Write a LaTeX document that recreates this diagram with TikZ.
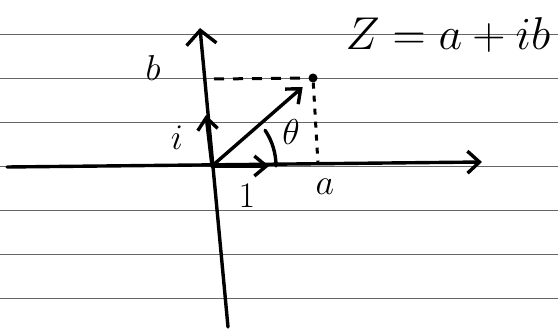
\RequirePackage{fix-cm}
\documentclass[tikz,border=0pt]{standalone}
\usepackage{amsmath}
\usetikzlibrary{arrows.meta,positioning}

\begin{document}
\begin{tikzpicture}[
    x=1pt, y=1pt,
    rule/.style={draw=black!60, line width=1.3pt},
    ink/.style={draw=black, line width=3.4pt, line cap=round, line join=round},
    axis/.style={ink, -{Straight Barb[length=14pt, width=30pt]}},
    vec/.style={ink, -{Straight Barb[length=12pt, width=20pt]}},
    guide/.style={ink, line width=3pt, line cap=butt, dash pattern=on 10pt off 9pt},
    drop/.style={ink, line width=3pt, line cap=butt, dash pattern=on 6pt off 7pt},
    dot/.style={circle, fill=black, inner sep=0pt, minimum size=9pt},
    label/.style={font=\fontsize{36}{40}\selectfont, inner sep=0pt},
    title/.style={font=\fontsize{46}{50}\selectfont, inner sep=0pt},
]

\useasboundingbox (0,0) rectangle (558,330);

% Ruled paper
\foreach \y in {295.5, 251.5, 207.5, 163.5, 119.5, 75.5, 31.5}
  \draw[rule] (0,\y) -- (558,\y);

% Points
\coordinate (O) at (212,164);
\coordinate (ytop) at (200,302);
\coordinate (ybot) at (228,3);
\coordinate (xleft) at (7,163);
\coordinate (xright) at (482,168);
\coordinate (itip) at (206,215);
\coordinate (onetip) at (269,164);
\coordinate (bfoot) at (214,251);
\coordinate (afoot) at (318,166);
\node[dot] (P) at (313,252) {};

% Axes
\draw[axis] (ybot) -- (ytop);
\draw[axis, -{Straight Barb[length=12pt, width=22pt]}] (xleft) -- (xright);

% Unit vectors
\draw[vec] (O) -- (itip);
\draw[vec] (O) -- (onetip);

% z as a vector
\draw[vec, shorten >=9pt] (O) -- (P);
\draw[guide] (bfoot) -- (P);
\draw[drop] (P) -- (afoot);

% Angle
\draw[ink] (O) ++(0:64) arc[start angle=0, end angle=34, radius=64];

% Labels
\node[label] (blab) at (153,262) {$b$};
\node[label] (ilab) at (177,192) {$i$};
\node[label] (onelab) at (247,134) {$1$};
\node[label] (alab) at (325,143) {$a$};
\node[label] (thlab) at (291,198) {$\theta$};
\node[title] (zeq) at (448,295) {$Z=a+ib$};

\end{tikzpicture}
\end{document}
